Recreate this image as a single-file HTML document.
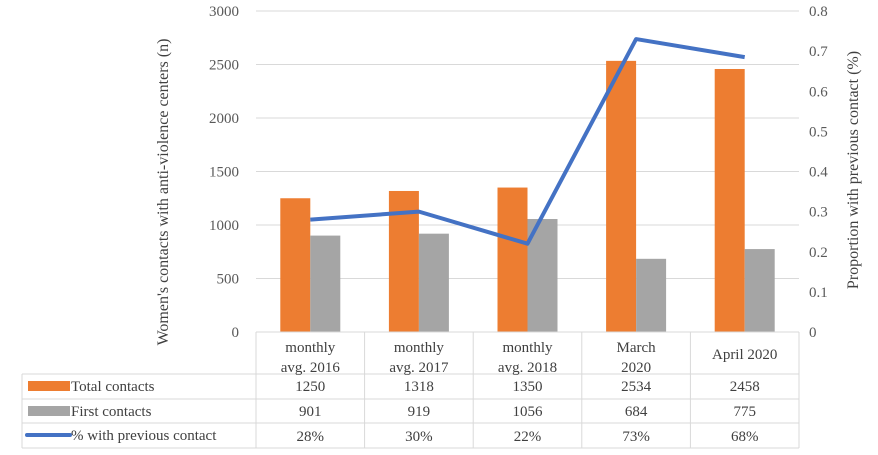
<!DOCTYPE html>
<html><head><meta charset="utf-8"><style>
body{margin:0;background:#fff;font-family:"Liberation Serif",serif;}
svg text{font-family:"Liberation Serif",serif;}
</style></head><body>
<svg id="c" width="878" height="450" xmlns="http://www.w3.org/2000/svg"></svg>
<script>
const categories=[["monthly","avg. 2016"],["monthly","avg. 2017"],["monthly","avg. 2018"],["March","2020"],["April 2020"]];
const totalContacts=[1250,1318,1350,2534,2458];
const firstContacts=[901,919,1056,684,775];
const pctPrevious=[0.28,0.30,0.22,0.73,0.685];
const pctLabels=["28%","30%","22%","73%","68%"];
const leftTicks=[0,500,1000,1500,2000,2500,3000];
const rightTicks=[0,0.1,0.2,0.3,0.4,0.5,0.6,0.7,0.8];

const svg=document.getElementById('c');
const NS='http://www.w3.org/2000/svg';
function mk(t,a,p){const e=document.createElementNS(NS,t);for(const k in a)e.setAttribute(k,a[k]);(p||svg).appendChild(e);return e;}
const X0=256,X1=799,Y0=332,Y1=11;
const bw=(X1-X0)/categories.length;
const yL=v=>Y0-(v/3000)*(Y0-Y1);
const yR=v=>Y0-(v/0.8)*(Y0-Y1);
const xc=i=>X0+bw*(i+0.5);

leftTicks.forEach(t=>{
  const g=mk('line',{x1:X0,x2:X1,y1:yL(t),y2:yL(t),stroke:'#d9d9d9','stroke-width':1});
  
  
  const l=mk('text',{x:X0-17,y:yL(t)+5,'text-anchor':'end','font-size':15,fill:'#595959'});
  l.textContent=t;
  
  
});
rightTicks.forEach(t=>{
  const l=mk('text',{x:809,y:yR(t)+5,'font-size':15,fill:'#595959'});
  l.textContent=t;
  
  
});
const lt=mk('text',{transform:'translate(168,192) rotate(-90)','text-anchor':'middle','font-size':16,fill:'#404040'});
lt.textContent="Women's contacts with anti-violence centers (n)";


const rt=mk('text',{transform:'translate(858,170) rotate(-90)','text-anchor':'middle','font-size':16,fill:'#404040'});
rt.textContent="Proportion with previous contact (%)";



categories.forEach((c,i)=>{
  const b=mk('rect',{x:xc(i)-30,y:yL(totalContacts[i]),width:30,height:Y0-yL(totalContacts[i]),fill:'#ed7d31'});
  
  
  const g=mk('rect',{x:xc(i),y:yL(firstContacts[i]),width:30,height:Y0-yL(firstContacts[i]),fill:'#a5a5a5'});
  
  
});
const pl=mk('polyline',{points:pctPrevious.map((v,i)=>xc(i)+','+yR(v)).join(' '),fill:'none',stroke:'#4472c4','stroke-width':4,'stroke-linejoin':'round'});



// table
const rows=[374,399,423,448];
const tc='#d9d9d9';
mk('line',{x1:X0,x2:X1,y1:Y0,y2:Y0,stroke:tc});
rows.forEach(y=>mk('line',{x1:22,x2:X1,y1:y,y2:y,stroke:tc}));
for(let i=0;i<=categories.length;i++)mk('line',{x1:X0+bw*i,x2:X0+bw*i,y1:Y0,y2:448,stroke:tc});
mk('line',{x1:22,x2:22,y1:374,y2:448,stroke:tc});
categories.forEach((c,i)=>{
  const lines=c;
  lines.forEach((s,j)=>{
    const y=lines.length===1?359:352+j*20;
    const t=mk('text',{x:xc(i),y:y,'text-anchor':'middle','font-size':15,fill:'#404040'});
    t.textContent=s;
    
    
  });
  [[totalContacts[i],391],[firstContacts[i],416],[pctLabels[i],441]].forEach(([v,y])=>{
    const t=mk('text',{x:xc(i),y:y,'text-anchor':'middle','font-size':15,fill:'#404040'});
    t.textContent=v;
    
    
  });
});
const legs=[["Total contacts","#ed7d31",'rect'],["First contacts","#a5a5a5",'rect'],["% with previous contact","#4472c4",'line']];
legs.forEach((l,k)=>{
  const y=rows[k]+12;
  if(l[2]==='rect'){const r=mk('rect',{x:28,y:y-5,width:42,height:10,fill:l[1]});}
  else{const r=mk('line',{x1:27,x2:70,y1:y,y2:y,stroke:l[1],'stroke-width':4,'stroke-linecap':'round'});}
  const t=mk('text',{x:71,y:y+5,'font-size':15,fill:'#404040'});
  t.textContent=l[0];
  
  
});
</script>
</body></html>
